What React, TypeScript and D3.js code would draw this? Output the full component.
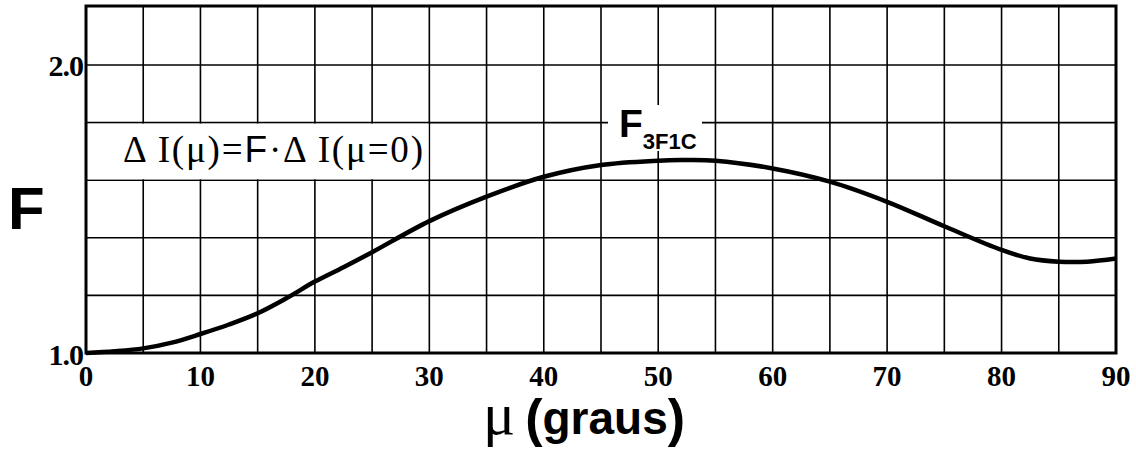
import * as d3 from "d3";
import { useEffect, useRef } from "react";

// curve F(mu)
const muValues = [0, 2.5, 5, 7.5, 10, 12.5, 15, 17.5, 20, 22.5, 25, 30, 35, 40, 45, 50, 52, 55, 60, 65, 70, 75, 80, 82.5, 85, 87.5, 90];
const fValues = [1.0, 1.006, 1.016, 1.036, 1.066, 1.099, 1.138, 1.19, 1.248, 1.298, 1.35, 1.458, 1.543, 1.612, 1.653, 1.668, 1.67, 1.668, 1.641, 1.595, 1.525, 1.44, 1.358, 1.328, 1.317, 1.317, 1.328];
const xTicks = [0, 10, 20, 30, 40, 50, 60, 70, 80, 90];
const yTickLabels = [1.0, 2.0];
const yGrid = [1.2, 1.4, 1.6, 1.8, 2.0];

const W = 1136;
const H = 468;
const margin = { left: 86, right: 20, top: 6, bottom: 115 };

const drawChart = (target: any) => {
  const svg = d3.select(target);
  svg.selectAll("*").remove();

  const x = d3.scaleLinear().domain([0, 90]).range([margin.left, W - margin.right]);
  const y = d3.scaleLinear().domain([1, 2.205]).range([H - margin.bottom, margin.top]);

  // vertical grid every 5 degrees
  svg
    .append("g")
    .selectAll("line")
    .data(d3.range(5, 90, 5))
    .join("line")
    .attr("x1", (d) => x(d))
    .attr("x2", (d) => x(d))
    .attr("y1", y(1))
    .attr("y2", y(2.205))
    .attr("stroke", "#000")
    .attr("stroke-width", 1.6);

  svg
    .append("g")
    .selectAll("line")
    .data(yGrid)
    .join("line")
    .attr("x1", x(0))
    .attr("x2", x(90))
    .attr("y1", (d) => y(d))
    .attr("y2", (d) => y(d))
    .attr("stroke", "#000")
    .attr("stroke-width", 1.6);

  // white boxes behind the labels
  svg.append("rect").attr("x", x(0) + 1.5).attr("y", y(1.8) + 1).attr("width", 341).attr("height", y(1.6) - y(1.8) - 2).attr("fill", "#fff");
  svg.append("rect").attr("x", 608).attr("y", 105).attr("width", 94).attr("height", 46).attr("fill", "#fff");

  // frame
  svg
    .append("rect")
    .attr("x", x(0))
    .attr("y", y(2.205))
    .attr("width", x(90) - x(0))
    .attr("height", y(1) - y(2.205))
    .attr("fill", "none")
    .attr("stroke", "#000")
    .attr("stroke-width", 3);

  const line = d3
    .line<number>()
    .x((_, i) => x(muValues[i]))
    .y((d) => y(d))
    .curve(d3.curveCatmullRom);

  svg
    .append("path")
    .attr("d", line(fValues))
    .attr("fill", "none")
    .attr("stroke", "#000")
    .attr("stroke-width", 4.5)
    .attr("stroke-linejoin", "round");

  // tick labels
  svg
    .append("g")
    .selectAll("text")
    .data(xTicks)
    .join("text")
    .attr("x", (d) => x(d))
    .attr("y", y(1) + 33)
    .attr("text-anchor", "middle")
    .attr("font-family", "Liberation Serif")
    .attr("font-weight", "bold")
    .attr("font-size", 29)
    .text((d) => d);

  svg
    .append("g")
    .selectAll("text")
    .data(yTickLabels)
    .join("text")
    .attr("x", x(0) - 3)
    .attr("y", (d) => y(d) + (d === 1 ? 12 : 11))
    .attr("text-anchor", "end")
    .attr("font-family", "Liberation Serif")
    .attr("font-weight", "bold")
    .attr("font-size", 30)
    .attr("letter-spacing", -1)
    .text((d) => d.toFixed(1));

  // formula
  const f = svg
    .append("text")
    .attr("x", 123)
    .attr("y", 162)
    .attr("font-family", "Liberation Serif")
    .attr("font-size", 37)
    .attr("textLength", 300)
    .attr("lengthAdjust", "spacing");
  f.append("tspan").text("\u0394 I(\u03bc)=");
  f.append("tspan").attr("font-family", "Liberation Sans").text("F");
  f.append("tspan").text("\u00b7\u0394 I(\u03bc=0)");

  // curve label
  const lab = svg.append("text").attr("x", 619).attr("y", 137).attr("font-family", "Liberation Sans");
  lab.append("tspan").attr("font-weight", "bold").attr("font-size", 39).text("F");
  lab.append("tspan").attr("font-size", 22).attr("font-weight", "bold").attr("dy", 12).text("3F1C");

  // axis titles
  svg
    .append("text")
    .attr("x", 8)
    .attr("y", 229)
    .attr("font-family", "Liberation Sans")
    .attr("font-weight", "bold")
    .attr("font-size", 60)
    .text("F");

  const t = svg.append("text").attr("x", 483).attr("y", 434);
  t.append("tspan").attr("font-family", "Liberation Serif").attr("font-size", 60).text("\u03bc");
  t.append("tspan").attr("font-family", "Liberation Sans").attr("font-weight", "bold").attr("font-size", 52).attr("dx", 10).attr("dy", 2).text("(");
  t.append("tspan").attr("font-family", "Liberation Sans").attr("font-weight", "bold").attr("font-size", 46).attr("dy", -2).text("graus");
  t.append("tspan").attr("font-family", "Liberation Sans").attr("font-weight", "bold").attr("font-size", 52).attr("dy", 2).text(")");
};

const App = () => {
  const ref = useRef<SVGSVGElement>(null);
  useEffect(() => {
    if (ref.current) drawChart(ref.current);
  }, []);
  return (
    <svg
      ref={ref}
      width={W}
      height={H}
      style={{ position: "absolute", left: 0, top: 0, background: "#fff" }}
    />
  );
};

export default App;
